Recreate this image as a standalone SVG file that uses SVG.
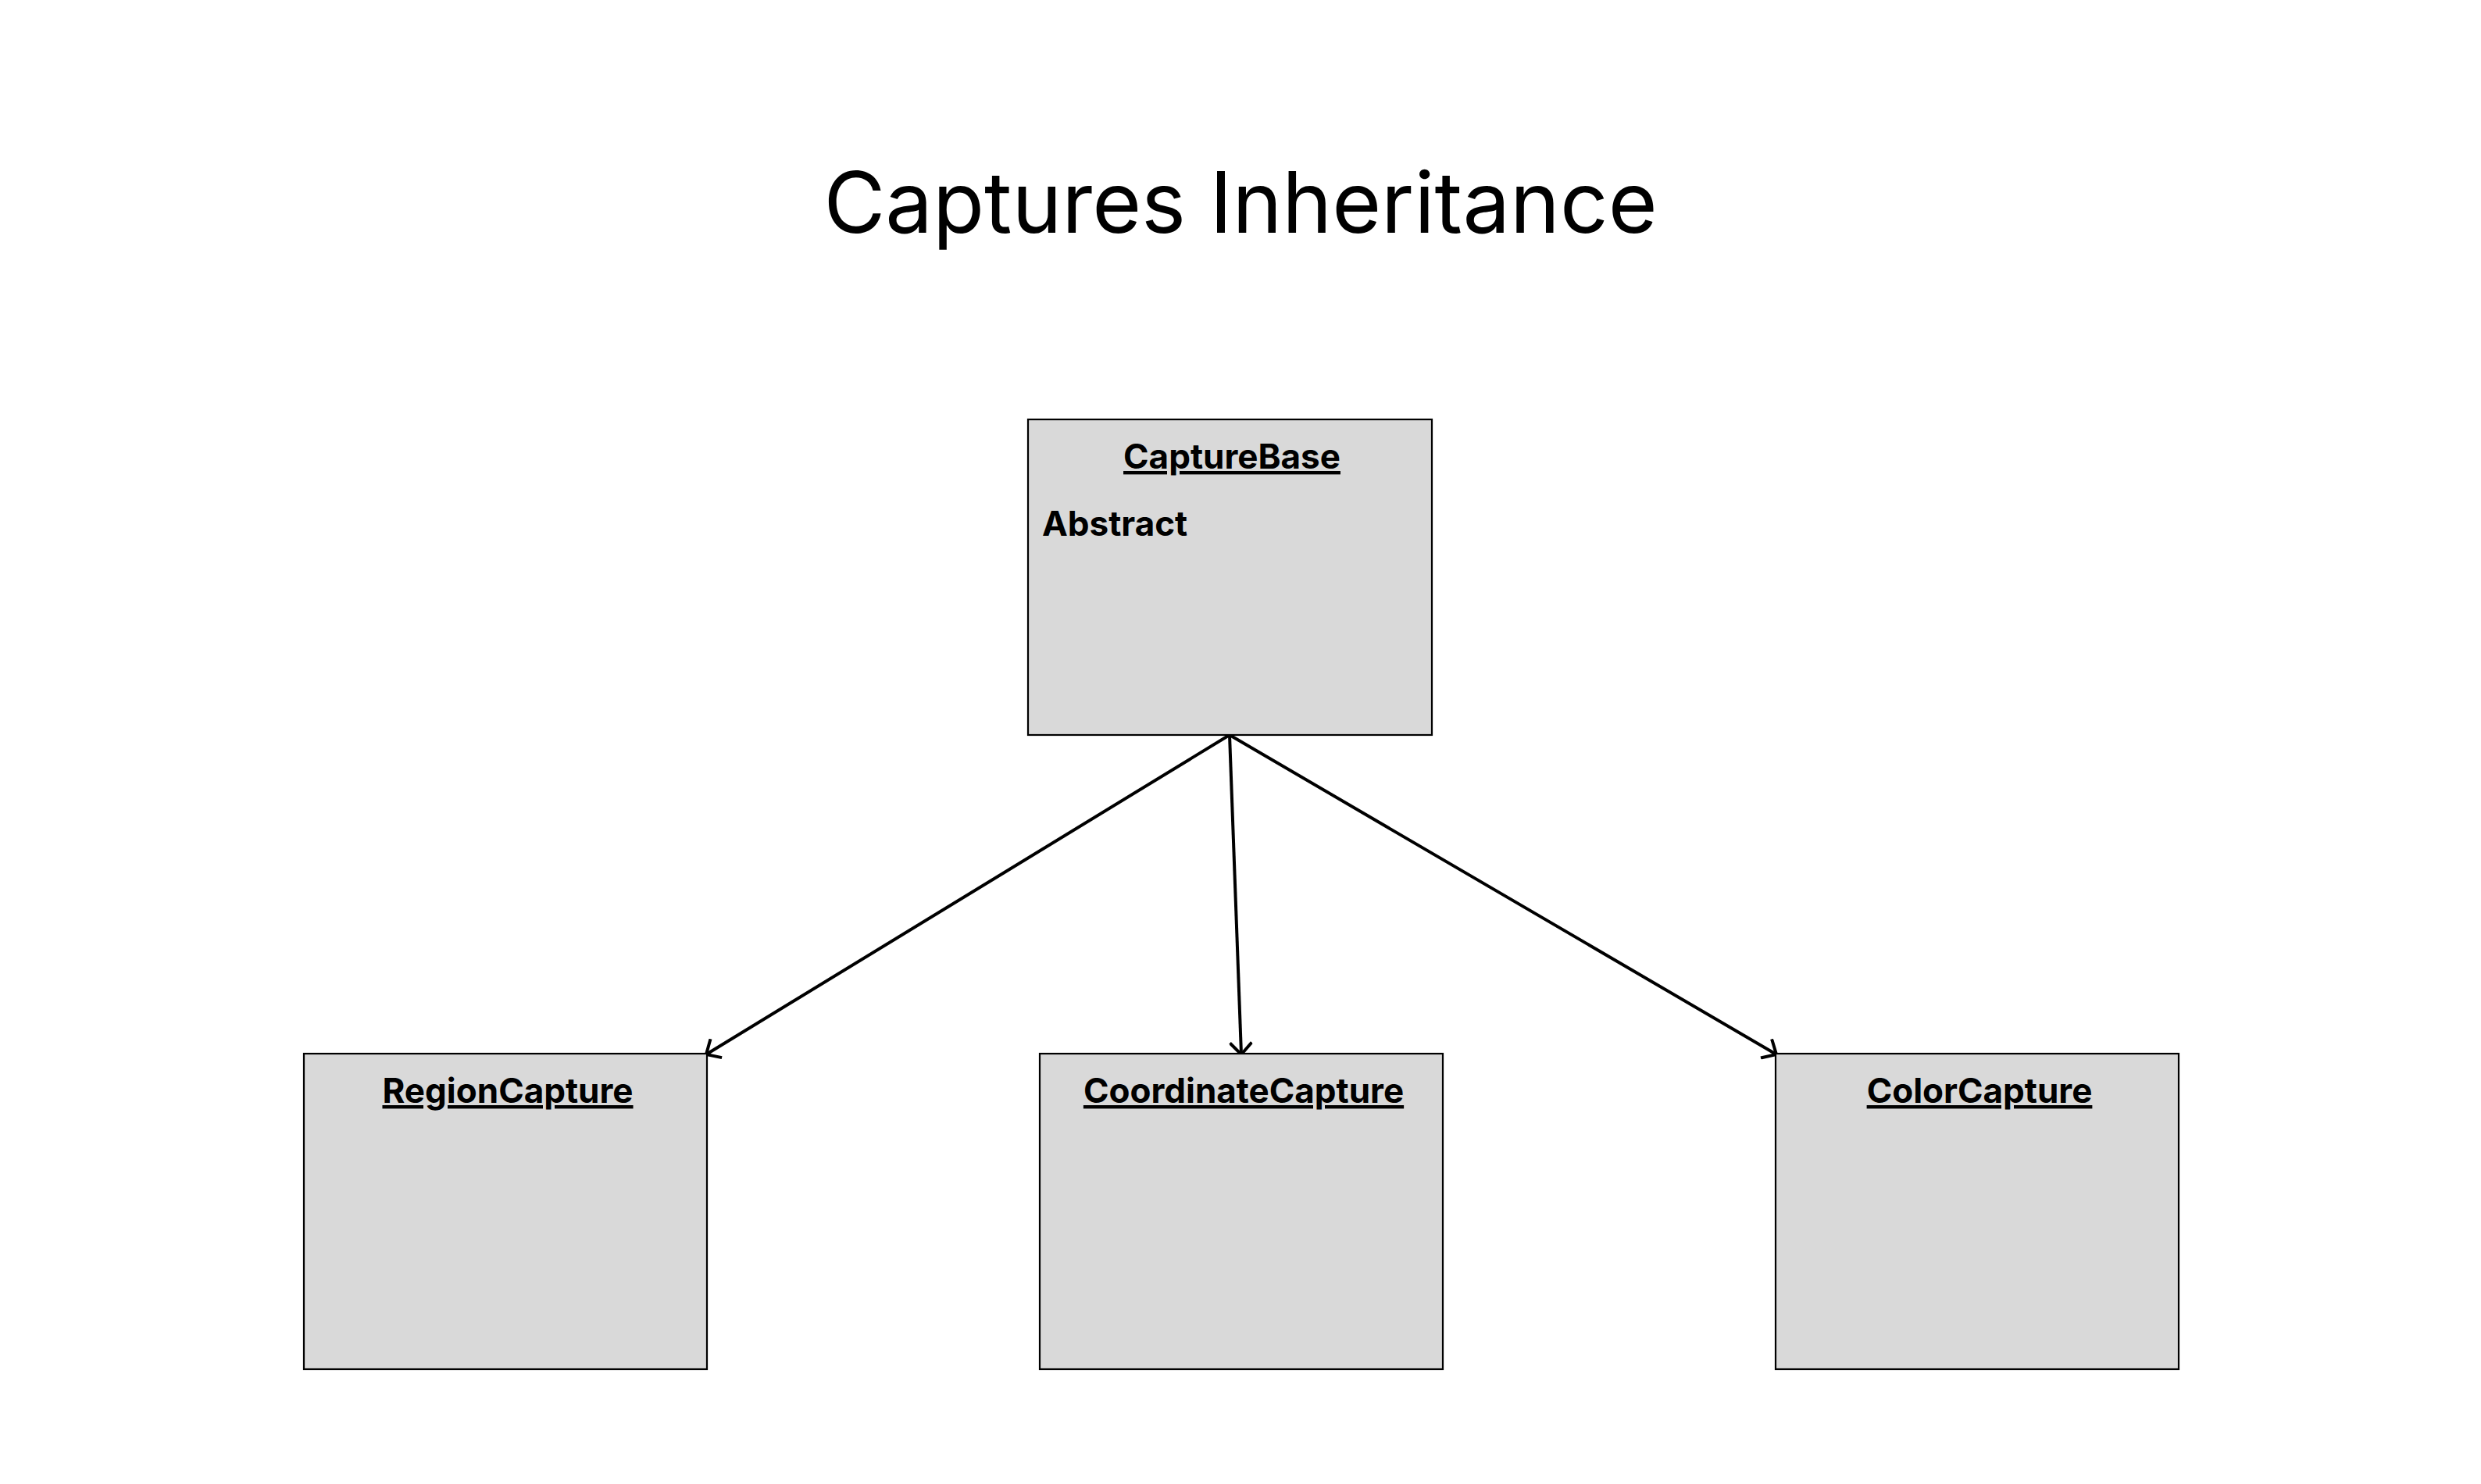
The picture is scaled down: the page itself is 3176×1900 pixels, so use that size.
<svg xmlns="http://www.w3.org/2000/svg" width="3176" height="1900" viewBox="0 0 3176 1900">
<style>
.box{fill:#d9d9d9;stroke:#000;stroke-width:2.2}
.name{font-family:Inter,"Liberation Sans",sans-serif;font-weight:700;font-size:44px;fill:#000;text-anchor:middle;text-decoration:underline}
.body{font-family:Inter,"Liberation Sans",sans-serif;font-weight:700;font-size:44px;fill:#000}
.title{font-family:Inter,"Liberation Sans",sans-serif;font-size:108px;fill:#000;text-anchor:middle}
.edge{fill:none;stroke:#000;stroke-width:4}
</style>
<defs>
<marker id="arrow" viewBox="0 0 30 30" refX="18" refY="15" markerWidth="30" markerHeight="30" markerUnits="userSpaceOnUse" orient="auto">
<path d="M3,1 L18,15 L3,29" fill="none" stroke="#000" stroke-width="4"/>
</marker>
</defs>
<rect width="3176" height="1900" fill="#fff"/>
<text class="title" x="1588" y="298">Captures Inheritance</text>
<g id="connectors">
<line class="edge" x1="1574" y1="941" x2="904" y2="1350" marker-end="url(#arrow)"/>
<line class="edge" x1="1574" y1="941" x2="1589" y2="1350" marker-end="url(#arrow)"/>
<line class="edge" x1="1574" y1="941" x2="2274" y2="1350" marker-end="url(#arrow)"/>
</g>
<g id="CaptureBase">
<rect class="box" x="1316" y="537" width="517" height="404"/>
<text class="name" x="1577" y="600">CaptureBase</text>
<text class="body" x="1334" y="686">Abstract</text>
</g>
<g id="RegionCapture">
<rect class="box" x="389" y="1349" width="516" height="404"/>
<text class="name" x="650" y="1412">RegionCapture</text>
</g>
<g id="CoordinateCapture">
<rect class="box" x="1331" y="1349" width="516" height="404"/>
<text class="name" x="1592" y="1412">CoordinateCapture</text>
</g>
<g id="ColorCapture">
<rect class="box" x="2273" y="1349" width="516" height="404"/>
<text class="name" x="2534" y="1412">ColorCapture</text>
</g>
</svg>
